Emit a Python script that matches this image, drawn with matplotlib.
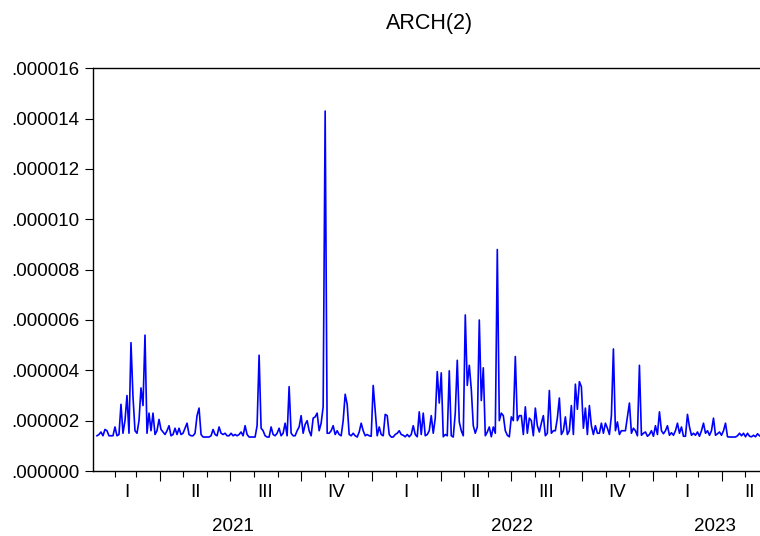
import numpy as np
import pandas as pd
import matplotlib
matplotlib.use("Agg")
import matplotlib.pyplot as plt
import matplotlib.dates as mdates
from matplotlib.ticker import FuncFormatter

plt.rcParams["font.family"] = ["Liberation Sans", "DejaVu Sans"]

# conditional variance, in units of 1e-6 (one value every ~2.6 days)
arch_var = [
    1.4, 1.45, 1.55, 1.4, 1.65, 1.6, 1.4, 1.4, 1.4, 1.75,
    1.4, 1.45, 2.65, 1.5, 2.0, 3.0, 1.5, 5.1, 2.95, 1.6,
    1.5, 2.0, 3.3, 2.6, 5.4, 1.5, 2.3, 1.6, 2.3, 1.45,
    1.6, 2.05, 1.65, 1.55, 1.45, 1.6, 1.8, 1.4, 1.45, 1.7,
    1.45, 1.7, 1.45, 1.5, 1.7, 1.9, 1.45, 1.4, 1.4, 1.5,
    2.2, 2.5, 1.45, 1.35, 1.35, 1.35, 1.35, 1.4, 1.65, 1.45,
    1.4, 1.75, 1.5, 1.45, 1.5, 1.4,
    1.4, 1.5, 1.4, 1.45, 1.4, 1.45, 1.55, 1.4, 1.8, 1.45,
    1.35, 1.35, 1.35, 1.35, 1.8, 4.6, 1.7, 1.6, 1.4, 1.35,
    1.35, 1.75, 1.45, 1.4, 1.5, 1.7, 1.4, 1.5, 1.9, 1.4,
    3.35, 1.5, 1.4, 1.4, 1.6, 1.75, 2.2, 1.5, 1.85, 2.0,
    1.6, 1.4, 2.1, 2.15, 2.3, 1.6, 1.9, 2.55, 14.3, 1.5,
    1.5, 1.6, 1.8, 1.45, 1.6, 1.45, 1.4, 2.0, 3.05, 2.65,
    1.45, 1.4, 1.5, 1.4, 1.35, 1.55, 1.9, 1.6,
    1.4, 1.45, 1.4, 1.38, 3.4, 2.4, 1.4, 1.75, 1.45, 1.4,
    2.25, 2.2, 1.45, 1.35, 1.35, 1.45, 1.5, 1.6, 1.45, 1.42,
    1.36, 1.45, 1.36, 1.45, 1.8, 1.45, 1.36, 2.35, 1.45, 2.3,
    1.4, 1.45, 1.6, 2.2, 1.5, 2.1, 3.95, 2.7, 3.9, 1.36,
    1.45, 1.4, 3.98, 1.4, 1.35, 2.3, 4.4, 1.95, 1.6, 1.4,
    6.2, 3.4, 4.2, 3.25, 1.8, 1.5, 1.75, 6.0, 2.8, 4.1,
    1.4, 1.55, 1.75, 1.36, 1.75, 1.5, 8.8,
    2.0, 2.3, 2.2, 1.6, 1.42, 1.36, 2.15, 2.0, 4.55, 2.0,
    2.2, 2.2, 1.45, 2.55, 1.5, 2.1, 2.0, 1.4, 2.5, 1.8,
    1.55, 1.9, 2.2, 1.4, 1.5, 3.2, 1.5, 1.6, 1.6, 2.1,
    2.9, 1.45, 1.6, 2.15, 1.45, 1.6, 2.6, 1.45, 3.45, 2.45,
    3.55, 3.35, 1.7, 2.5, 1.45, 2.6, 1.8, 1.45, 1.8, 1.5,
    1.5, 1.9, 1.5, 1.9, 1.7, 1.45, 2.2, 4.85, 1.6, 1.95,
    1.45, 1.6, 1.6, 1.6, 2.15, 2.7, 1.5,
    1.7, 1.6, 1.4, 4.2, 1.42, 1.5, 1.55, 1.38, 1.45, 1.6,
    1.38, 1.8, 1.45, 2.35, 1.6, 1.48, 1.6, 1.8, 1.42, 1.52,
    1.42, 1.6, 1.9, 1.5, 1.75, 1.38, 1.38, 2.25, 1.75, 1.42,
    1.5, 1.42, 1.55, 1.38, 1.6, 1.9, 1.5, 1.6, 1.42, 1.6,
    2.1, 1.42, 1.48, 1.55, 1.42, 1.6, 1.9, 1.36, 1.35, 1.35,
    1.35, 1.35, 1.4, 1.5, 1.4, 1.5, 1.36, 1.5, 1.38, 1.36,
    1.42, 1.36, 1.48, 1.4,
]
first_day = "2021-01-09"
last_day = "2023-05-20"
quarter_names = ["I", "II", "III", "IV"]
y_ticks = [0, 2, 4, 6, 8, 10, 12, 14, 16]

dates = pd.date_range(first_day, last_day, periods=len(arch_var))
x_min = pd.Timestamp("2021-01-04 06:00")
x_max = pd.Timestamp("2023-06-13")

fig = plt.figure(figsize=(7.6, 5.36), dpi=100)
ax = fig.add_axes([93.3 / 760, 1 - 471 / 536, (778 - 93.3) / 760, (471 - 68.3) / 536])

ax.plot(dates, np.array(arch_var) * 1e-6, color="#0000ff", lw=1.2)

ax.set_xlim(x_min, x_max)
ax.set_ylim(0, 16e-6)
ax.set_yticks([v * 1e-6 for v in y_ticks])
ax.yaxis.set_major_formatter(FuncFormatter(lambda v, _: f"{v:.6f}".lstrip("0")))
ax.tick_params(axis="y", direction="out", length=6, width=0.8, pad=4, labelsize=13.5)

q_starts = pd.date_range("2021-04-01", "2023-04-01", freq="QS")
m_starts = [d for d in pd.date_range("2021-02-01", "2023-06-01", freq="MS") if d not in q_starts]
ax.set_xticks(q_starts)
ax.set_xticks(m_starts, minor=True)
ax.tick_params(axis="x", which="major", direction="out", length=7.5, width=0.8, labelbottom=False)
ax.tick_params(axis="x", which="minor", direction="out", length=4, width=0.8, labelbottom=False)

trans = ax.get_xaxis_transform()
for q in pd.period_range("2021Q1", "2023Q2", freq="Q"):
    lo = max(q.start_time, x_min)
    hi = min(q.end_time, x_max)
    mid = lo + (hi - lo) / 2
    ax.text(mdates.date2num(mid), -0.054, quarter_names[q.quarter - 1], transform=trans,
            ha="center", va="center", fontsize=13.5)
for yr in [2021, 2022, 2023]:
    lo = max(pd.Timestamp(f"{yr}-01-01"), x_min)
    hi = min(pd.Timestamp(f"{yr + 1}-01-01"), x_max)
    mid = lo + (hi - lo) / 2
    ax.text(mdates.date2num(mid), -0.138, str(yr), transform=trans,
            ha="center", va="center", fontsize=13.5)

for side in ["top", "left", "bottom", "right"]:
    ax.spines[side].set_linewidth(1.0)

fig.text(430 / 760, 1 - 24 / 536, "ARCH(2)", ha="center", va="center", fontsize=15.5)

fig.savefig("out.png", dpi=100)
